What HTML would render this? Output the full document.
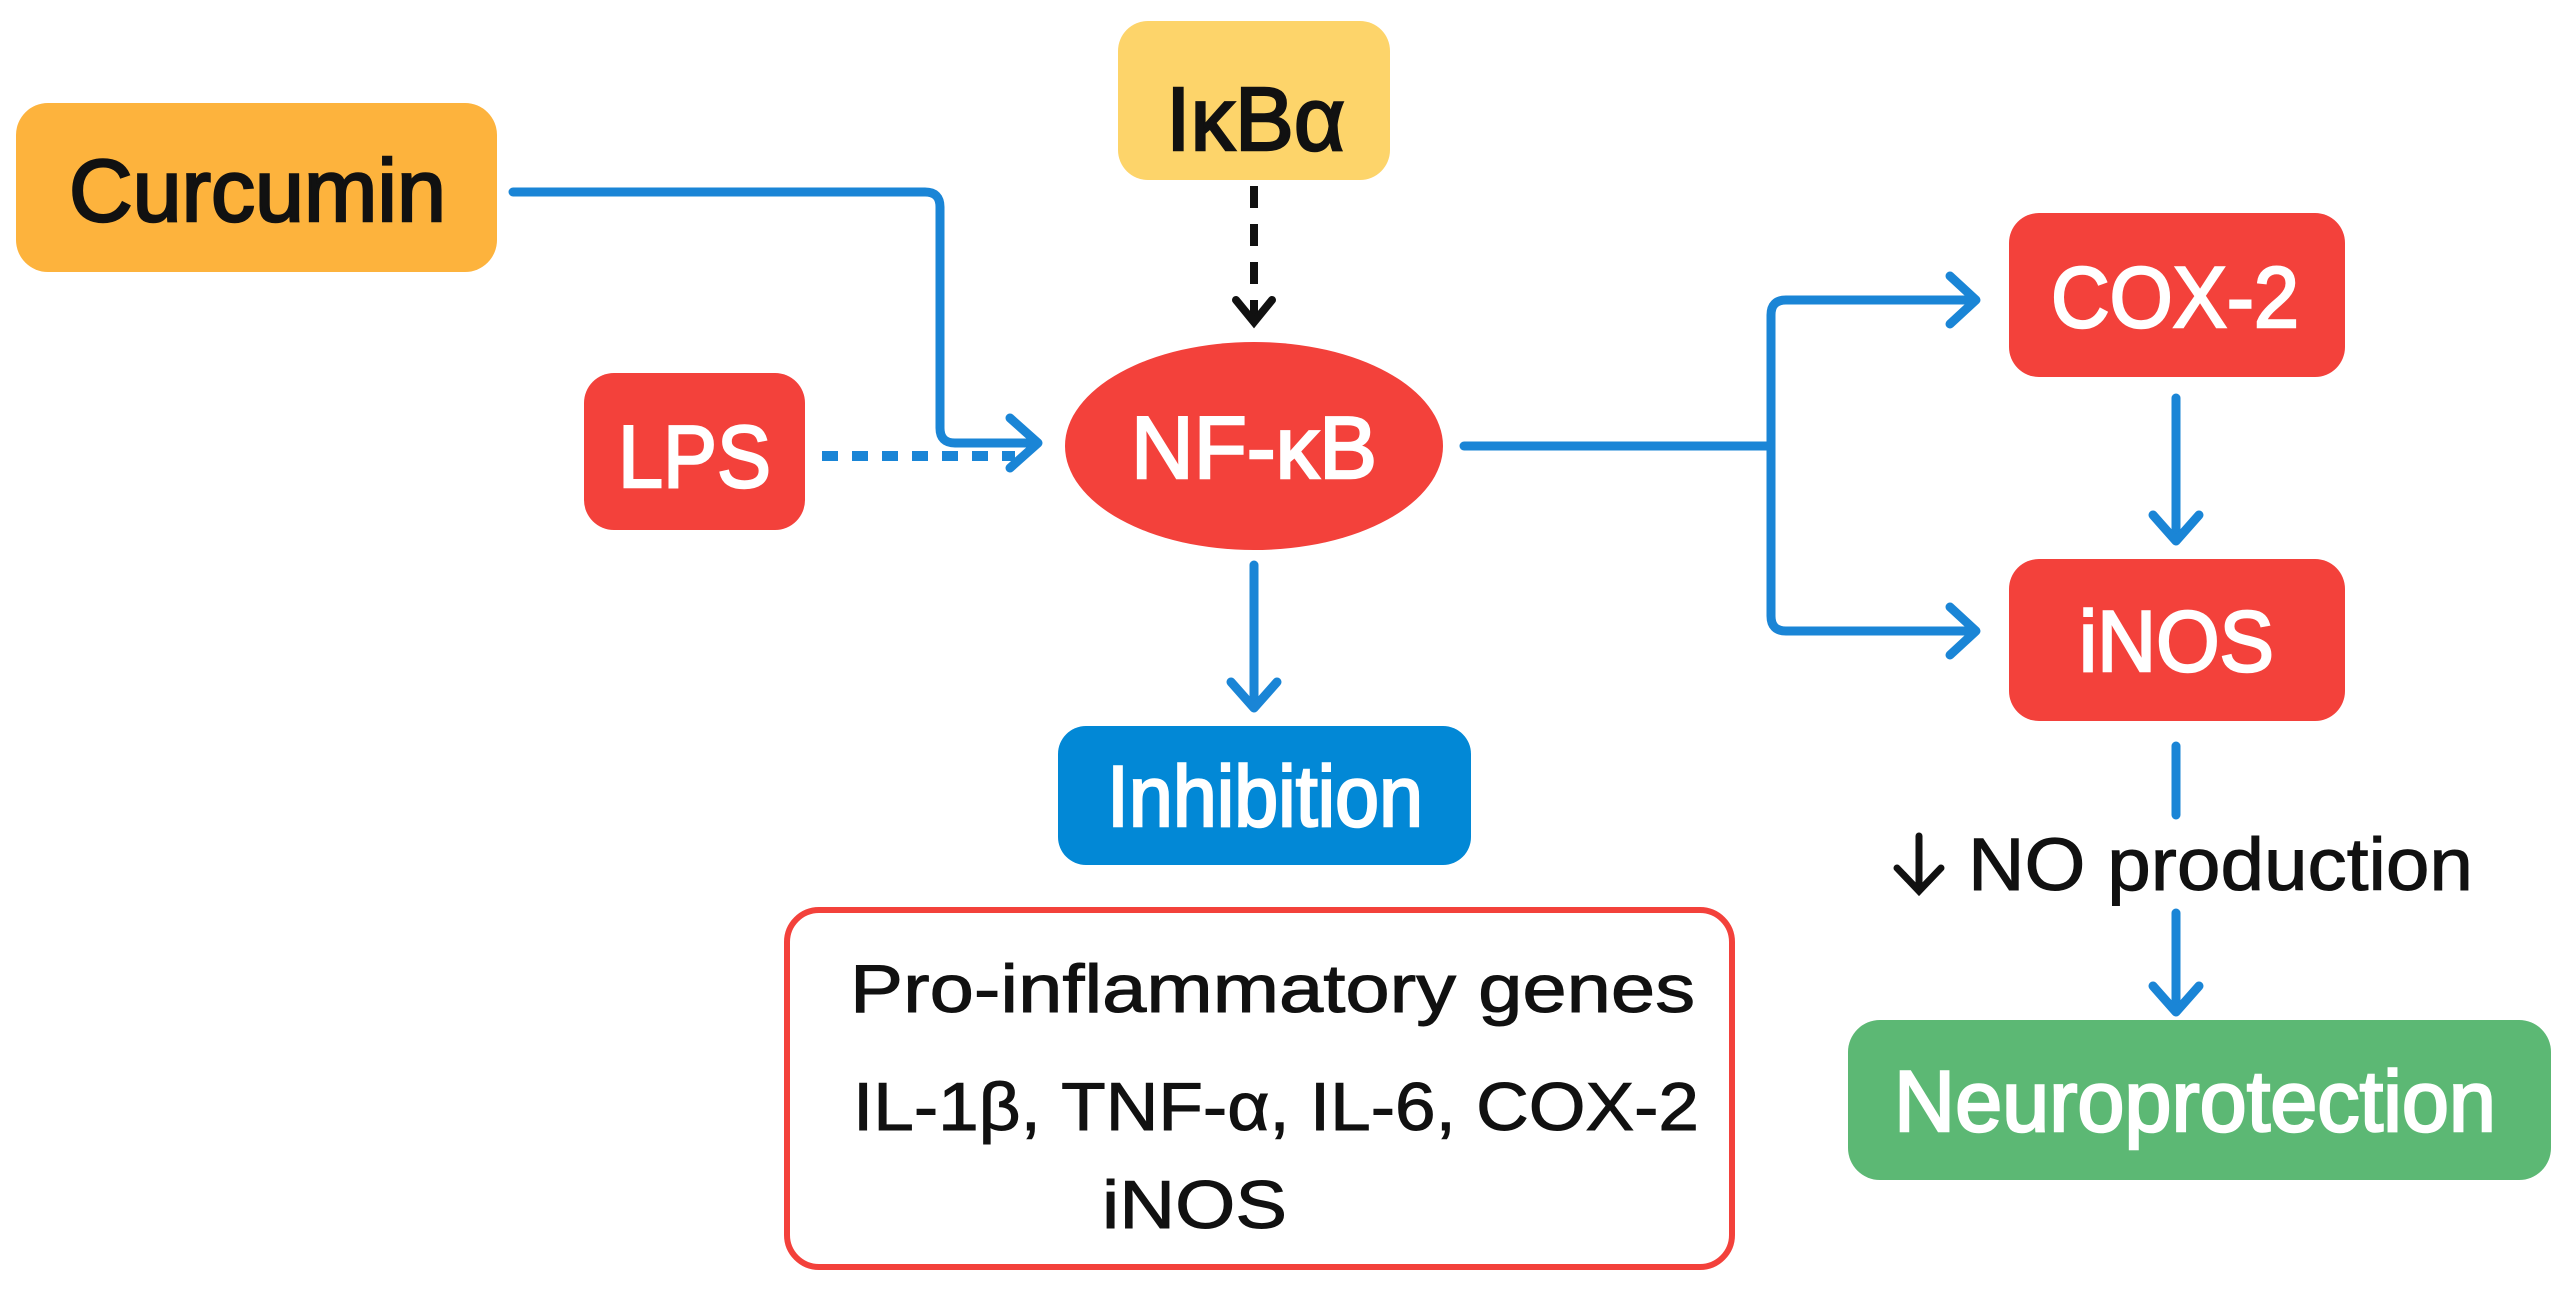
<!DOCTYPE html>
<html><head><meta charset="utf-8"><style>
html,body{margin:0;padding:0;background:#fff;}
svg{display:block;}
text{font-family:"Liberation Sans",sans-serif;}
.w{stroke:#fff;stroke-width:2.5;}
.k{stroke:#111;stroke-width:2.5;}
.k1{stroke:#111;stroke-width:1;}
</style></head><body>
<svg width="2571" height="1291" viewBox="0 0 2571 1291" xmlns="http://www.w3.org/2000/svg">
<rect width="2571" height="1291" fill="#fff"/>
<g fill="none" stroke="#1A85D6" stroke-width="9" stroke-linecap="round" stroke-linejoin="round">
 <path d="M513 192 H925 Q940 192 940 207 V428 Q940 443 955 443 H1036"/>
 <path d="M1010 418 L1038 443 L1010 468"/>
 <path d="M822 456 H1015" stroke-dasharray="16 14" stroke-linecap="butt" stroke-width="10"/>
 <path d="M1254 565 V705"/>
 <path d="M1231 682 L1254 708 L1277 682"/>
 <path d="M1464 446 H1771"/>
 <path d="M1974 300 H1786 Q1771 300 1771 315 V616 Q1771 631 1786 631 H1974"/>
 <path d="M1950 276 L1976 300 L1950 324"/>
 <path d="M1950 607 L1976 631 L1950 655"/>
 <path d="M2176 398 V538"/>
 <path d="M2153 515 L2176 541 L2199 515"/>
 <path d="M2176 746 V815"/>
 <path d="M2176 913 V1009"/>
 <path d="M2153 986 L2176 1012 L2199 986"/>
</g>
<g fill="none" stroke="#111" stroke-width="8" stroke-linecap="round">
 <path d="M1254 186 V318" stroke-dasharray="22 16" stroke-linecap="butt"/>
 <path d="M1236 300 L1254 322 L1272 300"/>
 <path d="M1919 836 V889" stroke-width="7"/>
 <path d="M1897 868 L1919 891 L1941 868" stroke-width="7"/>
</g>
<rect x="16" y="103" width="481" height="169" rx="32" fill="#FDB33D"/>
<text class="k" x="69" y="221" font-size="88" fill="#111" textLength="377" lengthAdjust="spacingAndGlyphs">Curcumin</text>
<rect x="1118" y="21" width="272" height="159" rx="30" fill="#FDD46A"/>
<text class="k" x="1166" y="150" font-size="90" fill="#111" textLength="179" lengthAdjust="spacingAndGlyphs">IκBα</text>
<rect x="584" y="373" width="221" height="157" rx="30" fill="#F3413B"/>
<text class="w" x="618" y="487" font-size="88" fill="#fff" textLength="153" lengthAdjust="spacingAndGlyphs">LPS</text>
<ellipse cx="1254" cy="446" rx="189" ry="104" fill="#F3413B"/>
<text class="w" x="1131" y="478" font-size="88" fill="#fff" textLength="246" lengthAdjust="spacingAndGlyphs">NF-κB</text>
<rect x="1058" y="726" width="413" height="139" rx="28" fill="#0288D6"/>
<text class="w" x="1107" y="826" font-size="86" fill="#fff" textLength="316" lengthAdjust="spacingAndGlyphs">Inhibition</text>
<rect x="787" y="910" width="945" height="357" rx="32" fill="#fff" stroke="#F3413B" stroke-width="6"/>
<text class="k1" x="850" y="1012" font-size="68" fill="#111" textLength="845" lengthAdjust="spacingAndGlyphs">Pro-inflammatory genes</text>
<text class="k1" x="853" y="1130" font-size="68" fill="#111" textLength="846" lengthAdjust="spacingAndGlyphs">IL-1β, TNF-α, IL-6, COX-2</text>
<text class="k1" x="1102" y="1228" font-size="68" fill="#111" textLength="185" lengthAdjust="spacingAndGlyphs">iNOS</text>
<rect x="2009" y="213" width="336" height="164" rx="30" fill="#F3413B"/>
<text class="w" x="2051" y="327" font-size="86" fill="#fff" textLength="248" lengthAdjust="spacingAndGlyphs">COX-2</text>
<rect x="2009" y="559" width="336" height="162" rx="30" fill="#F3413B"/>
<text class="w" x="2079" y="671" font-size="86" fill="#fff" textLength="195" lengthAdjust="spacingAndGlyphs">iNOS</text>
<text class="k1" x="1968" y="890" font-size="74" fill="#111" textLength="505" lengthAdjust="spacingAndGlyphs">NO production</text>
<rect x="1848" y="1020" width="703" height="160" rx="32" fill="#5CB874"/>
<text class="w" x="1894" y="1131" font-size="86" fill="#fff" textLength="602" lengthAdjust="spacingAndGlyphs">Neuroprotection</text>
</svg>
</body></html>
